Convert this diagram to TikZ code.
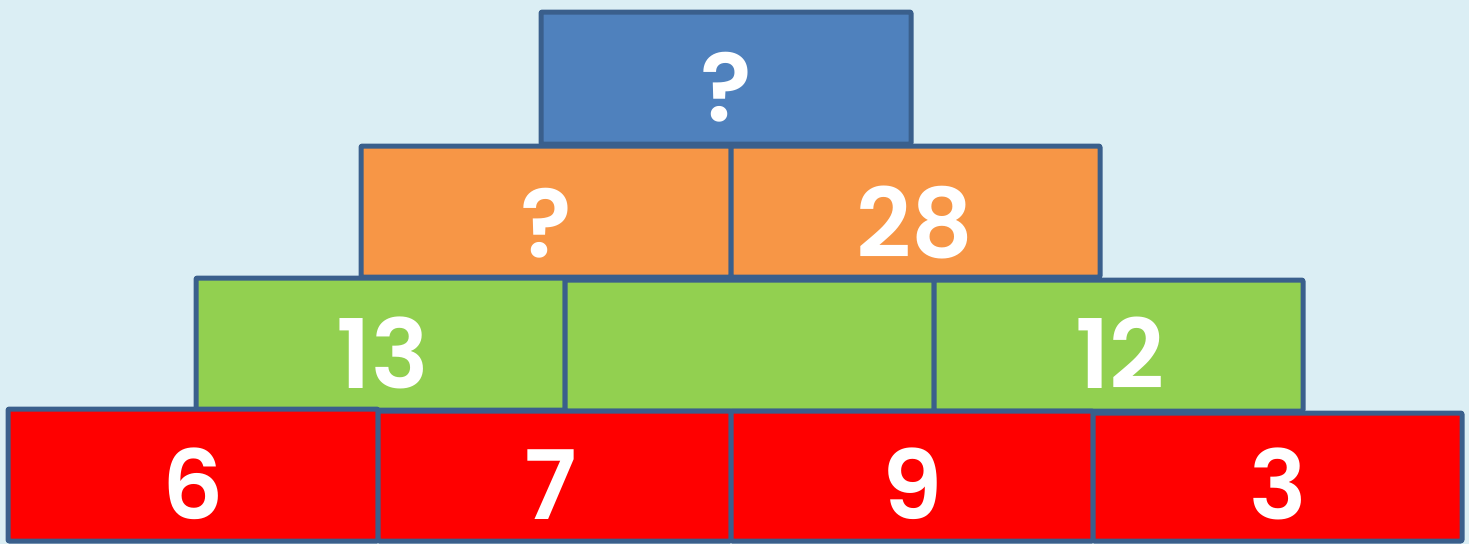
\documentclass[tikz,border=0pt]{standalone}
\usepackage{fontspec}
\setmainfont{Poppins}
\newfontfamily\numfont{Poppins SemiBold}
\definecolor{bgc}{HTML}{DBEEF4}
\definecolor{edgec}{HTML}{3A5F8C}
\definecolor{bluec}{HTML}{4F81BD}
\definecolor{orangec}{HTML}{F79646}
\definecolor{greenc}{HTML}{92D050}
\definecolor{redc}{HTML}{FF0000}
\begin{document}
\begin{tikzpicture}[x=1pt,y=-1pt,
  brick/.style={draw=edgec, line width=5pt, line join=round, rounded corners=1pt, inner sep=0pt, outer sep=0pt},
  num/.style={text=white, font=\numfont\fontsize{96}{96}\selectfont, inner sep=0pt, anchor=base}]
\fill[bgc] (0,0) rectangle (1469,544);
\useasboundingbox (0,0) rectangle (1469,544);
% top
\draw[brick, fill=bluec] (541,12) rectangle (911,144) node[midway] (top) {};
% orange row
\draw[brick, fill=orangec] (361,146) rectangle (731,277) node[midway] (o1) {};
\draw[brick, fill=orangec] (731,146) rectangle (1100,277) node[midway] (o2) {};
% green row
\draw[brick, fill=greenc] (196,278) rectangle (565,410) node[midway] (g1) {};
\draw[brick, fill=greenc] (565,280) rectangle (934,411) node[midway] (g2) {};
\draw[brick, fill=greenc] (934,280) rectangle (1303,411) node[midway] (g3) {};
% red row
\draw[brick, fill=redc] (8,409) rectangle (378,541) node[midway] (r1) {};
\draw[brick, fill=redc] (378,411) rectangle (731,541) node[midway] (r2) {};
\draw[brick, fill=redc] (731,411) rectangle (1093,541) node[midway] (r3) {};
\draw[brick, fill=redc] (1093,413) rectangle (1462,541) node[midway] (r4) {};
% labels
\node[num] (ttop) at (726,121) {?};
\node[num] (to1) at (546,257) {?};
\node[num] (to2) at (915,257) {28};
\node[num] (tg1) at (383,388) {13};
\node[num] (tg3) at (1120,388) {12};
\node[num] (tr1) at (193,519) {6};
\node[num] (tr2) at (551,519) {7};
\node[num] (tr3) at (913,519) {9};
\node[num] (tr4) at (1278,519) {3};
\end{tikzpicture}
\end{document}
